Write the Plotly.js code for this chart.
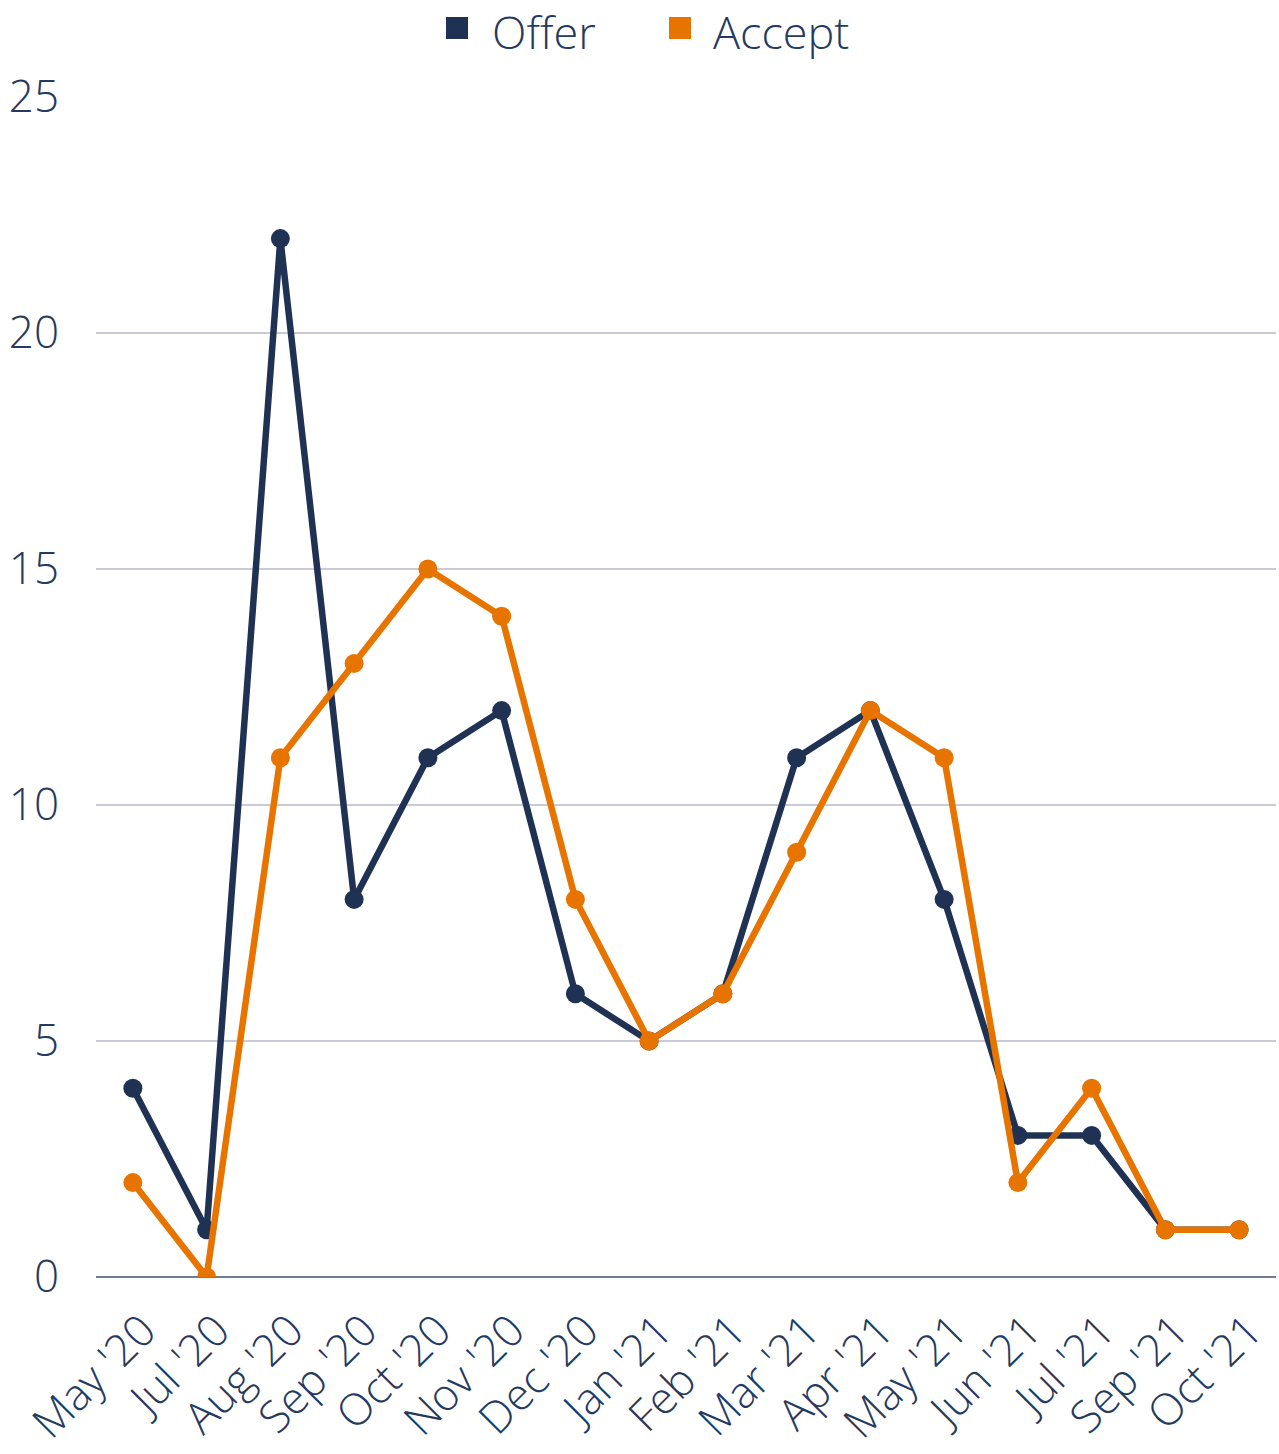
<!DOCTYPE html>
<html><head><meta charset="utf-8">
<script src="https://cdn.plot.ly/plotly-3.0.1.min.js"></script>
<style>html,body{margin:0;padding:0;background:#fff}#chart{width:1279px;height:1454px}</style>
</head><body><div id="chart"></div>
<script>
const months = ["May '20","Jul '20","Aug '20","Sep '20","Oct '20","Nov '20","Dec '20","Jan '21","Feb '21","Mar '21","Apr '21","May '21","Jun '21","Jul '21","Sep '21","Oct '21"];
const offer  = [4,1,22,8,11,12,6,5,6,11,12,8,3,3,1,1];
const accept = [2,0,11,13,15,14,8,5,6,9,12,11,2,4,1,1];
const yTicks = [0,5,10,15,20,25];
const seriesNames = ['Offer','Accept'];

const navy = '#1f3254';
const orange = '#e87400';
const textColor = '#253a5e';
const font = {family:'"Open Sans", sans-serif', weight:300, size:44, color:textColor};
const legendFont = Object.assign({}, font, {size:45});

const traces = [
  {x:months, y:offer, name:seriesNames[0], mode:'lines+markers',
   line:{color:navy, width:6.5}, marker:{color:navy, size:19}},
  {x:months, y:accept, name:seriesNames[1], mode:'lines+markers',
   line:{color:orange, width:6.5}, marker:{color:orange, size:19}}
];

// manual legend (plot area: x 96..1276, y 97..1277 px)
const W = 1180, H = 1180, L = 96, T = 97;
const px = v => (v - L) / W;
const py = v => (T + H - v) / H;
const legendItems = [
  {name:seriesNames[0], color:navy, sq:446, tx:491},
  {name:seriesNames[1], color:orange, sq:669, tx:712}
];
const shapes = legendItems.map(it => ({
  type:'rect', xref:'paper', yref:'paper',
  x0:px(it.sq), x1:px(it.sq+22), y0:py(39), y1:py(17),
  fillcolor:it.color, line:{width:0}
}));
const annotations = legendItems.map(it => ({
  text:it.name, xref:'paper', yref:'paper', x:px(it.tx), y:py(0.5),
  xanchor:'left', yanchor:'top', showarrow:false, font:legendFont, borderpad:0
}));

const layout = {
  width:1279, height:1454,
  margin:{l:96, r:3, t:97, b:177},
  paper_bgcolor:'#fff', plot_bgcolor:'#fff',
  font:font,
  showlegend:false,
  shapes:shapes,
  annotations:annotations,
  xaxis:{type:'category', range:[-0.5,15.5], tickangle:-45, showgrid:false, zeroline:false, showline:false, ticks:'', tickfont:font, ticklabelstandoff:18, ticklabelshift:10, automargin:false},
  yaxis:{range:[0,25], tickvals:yTicks, showgrid:true, gridcolor:'#c9ccd8', gridwidth:1.5, zeroline:true, zerolinecolor:'#6e7b95', zerolinewidth:2, showline:false, ticks:'', tickfont:font, ticklabelstandoff:36, automargin:false}
};
Plotly.newPlot('chart', traces, layout, {displayModeBar:false, staticPlot:true});
</script></body></html>
